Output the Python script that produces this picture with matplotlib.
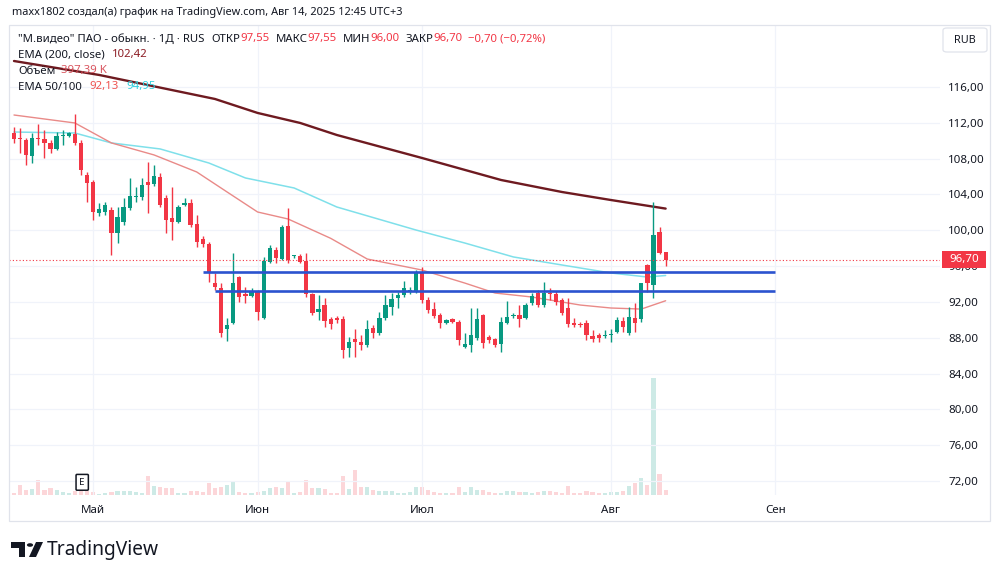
import matplotlib
matplotlib.use('Agg')
import matplotlib.pyplot as plt
from matplotlib.patches import Rectangle, Polygon, Circle, FancyBboxPatch
import matplotlib.transforms as mtrans

# ---------------- data ----------------
opens = [110.86, 110.31, 110.08, 108.29, 110.31, 110.19, 109.75, 109.08, 110.53, 110.53,
         110.75, 109.75, 106.17, 105.39, 101.93, 102.04, 102.26, 99.70, 100.92, 102.49,
         103.72, 103.72, 105.39, 105.17, 105.95, 103.61, 101.37, 100.92, 102.82, 103.05,
         100.70, 99.03, 98.47, 94.11, 93.56, 88.98, 89.65, 94.78, 92.88, 92.66,
         93.22, 90.20, 96.46, 97.80, 96.79, 100.48, 97.13, 97.13, 96.57, 92.88,
         90.87, 91.66, 90.09, 90.20, 90.09, 86.85, 87.86, 87.53, 87.19, 89.09,
         88.53, 90.20, 91.43, 92.44, 92.77, 93.11, 93.22, 95.23, 92.21, 91.21,
         90.54, 89.65, 90.09, 89.76, 86.97, 87.19, 87.97, 90.54, 88.08, 87.86,
         87.30, 89.65, 90.43, 90.54, 90.20, 91.88, 93.00, 91.66, 93.00, 92.88,
         92.21, 91.32, 89.65, 89.53, 89.65, 88.19, 88.31, 88.19, 88.31, 88.64,
         89.87, 88.53, 90.20, 90.09, 96.12, 93.89, 99.81, 97.55]
highs = [111.53, 111.42, 110.31, 110.86, 111.87, 111.20, 110.08, 110.97, 111.20, 110.97,
         112.98, 110.08, 106.51, 105.61, 103.05, 103.16, 102.60, 102.60, 103.61, 105.84,
         104.83, 105.84, 107.62, 107.29, 106.40, 103.94, 104.83, 102.82, 103.61, 103.49,
         101.70, 99.36, 98.69, 95.23, 94.11, 90.20, 97.46, 94.89, 93.67, 93.56,
         93.33, 97.01, 98.36, 98.13, 100.59, 102.49, 97.24, 97.35, 97.46, 93.00,
         92.77, 92.44, 90.32, 90.43, 90.43, 88.08, 88.98, 88.31, 89.98, 89.42,
         90.87, 92.77, 93.00, 93.11, 94.33, 93.67, 95.56, 95.90, 92.55, 91.99,
         90.76, 90.09, 90.20, 89.98, 88.53, 91.32, 91.32, 90.65, 88.31, 87.97,
         90.32, 92.10, 90.76, 91.66, 91.88, 93.00, 93.33, 94.22, 93.56, 93.22,
         92.44, 92.44, 90.20, 89.76, 89.98, 88.86, 88.53, 88.86, 88.98, 90.32,
         90.32, 91.43, 91.88, 94.11, 96.23, 103.16, 100.37, 97.55]
lows = [109.75, 108.63, 107.29, 107.51, 109.52, 108.07, 108.63, 108.96, 109.52, 110.42,
        109.52, 106.17, 103.16, 101.14, 101.59, 101.70, 97.24, 98.58, 100.59, 102.26,
        103.16, 103.38, 101.93, 104.95, 102.60, 99.70, 98.91, 100.81, 102.71, 100.37,
        98.13, 98.13, 94.22, 93.33, 88.08, 87.64, 89.53, 91.99, 91.88, 92.55,
        89.98, 90.09, 96.35, 96.35, 96.68, 96.35, 96.90, 96.35, 92.55, 90.54,
        89.98, 89.20, 88.98, 89.65, 85.74, 85.85, 85.85, 86.63, 86.97, 87.97,
        88.31, 89.98, 90.54, 91.32, 92.55, 92.88, 93.00, 91.88, 90.76, 90.20,
        89.09, 89.53, 89.65, 87.19, 86.85, 86.41, 87.75, 86.85, 87.41, 86.97,
        86.41, 89.53, 90.20, 89.20, 90.09, 91.66, 91.43, 91.43, 92.21, 91.66,
        90.54, 89.20, 89.20, 89.20, 87.75, 87.53, 87.53, 87.97, 87.53, 88.53,
        88.64, 88.31, 88.64, 89.76, 93.11, 92.44, 97.35, 96.00]
closes = [110.19, 110.19, 108.41, 110.31, 110.19, 109.75, 109.08, 110.53, 110.64, 110.86,
          109.75, 106.73, 105.28, 102.04, 102.37, 102.82, 99.70, 101.48, 102.60, 103.83,
          103.83, 105.06, 105.06, 106.06, 102.82, 101.14, 100.92, 102.60, 103.05, 100.59,
          98.69, 98.47, 95.23, 93.67, 88.53, 89.42, 94.11, 92.55, 92.66, 93.11,
          90.87, 96.57, 98.02, 96.90, 100.37, 96.68, 97.24, 96.46, 92.88, 90.76,
          91.21, 89.87, 89.53, 89.98, 86.63, 87.53, 87.53, 87.19, 88.98, 88.53,
          90.20, 91.66, 92.33, 92.77, 93.56, 93.33, 95.23, 92.21, 91.10, 90.43,
          89.65, 89.98, 89.76, 87.75, 87.30, 88.31, 90.09, 87.41, 87.75, 87.19,
          89.76, 90.32, 90.54, 90.09, 91.66, 92.66, 91.66, 93.00, 92.88, 91.99,
          90.76, 89.53, 89.42, 89.42, 88.31, 87.86, 87.97, 88.31, 88.42, 89.98,
          89.20, 90.32, 89.65, 94.11, 94.11, 99.47, 97.46, 96.70]
volumes_k = [160, 800, 400, 480, 1200, 400, 560, 400, 240, 160,
             320, 400, 320, 240, 80, 160, 240, 320, 320, 320,
             240, 160, 1520, 720, 640, 560, 560, 160, 160, 320,
             320, 240, 960, 560, 640, 800, 1040, 240, 160, 160,
             240, 320, 560, 640, 560, 1120, 160, 240, 1200, 560,
             560, 480, 160, 160, 1520, 480, 2000, 640, 640, 400,
             320, 320, 320, 160, 160, 240, 640, 640, 400, 240,
             160, 160, 160, 640, 240, 640, 400, 400, 240, 160,
             160, 320, 320, 240, 240, 160, 240, 320, 320, 240,
             160, 720, 160, 160, 320, 240, 160, 160, 240, 240,
             320, 720, 960, 1360, 800, 9360, 1680, 397.39]

ema200_bars = [0, 14, 33, 40, 47, 53, 67, 80, 85, 90, 98, 107]
ema200_vals = [118.90, 117.34, 114.66, 113.10, 111.98, 110.64, 108.07, 105.61, 104.94, 104.27, 103.38, 102.42]
ema50_bars = [0, 10, 16, 23, 30, 35, 40, 45, 52, 58, 67, 74, 79, 85, 93, 98, 103, 107]
ema50_vals = [112.87, 111.98, 109.75, 108.41, 106.51, 104.27, 102.04, 101.26, 99.10, 96.79,
              95.56, 94.11, 92.99, 92.55, 91.65, 91.32, 91.20, 92.13]
ema100_bars = [0, 10, 16, 24, 32, 38, 46, 53, 66, 74, 82, 90, 98, 104, 107]
ema100_vals = [110.97, 110.86, 109.75, 109.08, 107.51, 105.84, 104.72, 102.60, 100.03, 98.58,
               97.02, 96.12, 95.23, 94.78, 94.95]

level_prices = [95.35, 93.20]
level_start_bars = [31, 33]
level_end_bar = 125

month_labels = ['Май', 'Июн', 'Июл', 'Авг', 'Сен']
month_bars = [13, 40, 67, 98, 125]
price_ticks = [72, 76, 80, 84, 88, 92, 96, 100, 104, 108, 112, 116]
last_price = 96.70
earnings_bar = 11.2

# ---------------- style ----------------
W, H = 1000, 578
UP = '#089981'
DN = '#f23645'
TXT = '#131722'
GRID = '#f0f3fa'

plt.rcParams['font.family'] = ['Noto Sans', 'DejaVu Sans']

fig = plt.figure(figsize=(W / 100, H / 100), dpi=100)
fig.patch.set_facecolor('white')

def fx(x):
    return x / W

def fy(y):
    return 1 - y / H

# plot region in pixels
PL, PR, PT, PB = 9, 940, 25, 495
rect = [fx(PL), fy(PB), (PR - PL) / W, (PB - PT) / H]

axv = fig.add_axes(rect, zorder=0)
ax = fig.add_axes(rect, zorder=1, sharex=axv)
ax.patch.set_alpha(0)

xlim = (-0.82, 152.05)
ax.set_xlim(*xlim)
ax.set_ylim(70.44, 122.92)

for a in (ax, axv):
    for s in a.spines.values():
        s.set_visible(False)

axv.set_yticks([])
axv.tick_params(axis='x', length=0, labelbottom=False)
for p in price_ticks:
    ax.axhline(p, color=GRID, lw=0.9, zorder=0)
for b in month_bars:
    ax.axvline(b, color=GRID, lw=0.9, zorder=0)

# volume
vol_colors = [(0.03, 0.6, 0.51, 0.2) if c >= o else (0.95, 0.21, 0.27, 0.2)
              for o, c in zip(opens, closes)]
idx = list(range(len(closes)))
axv.bar(idx, volumes_k, width=0.68, color=vol_colors, linewidth=0)
axv.set_ylim(0, max(volumes_k) * 4.02)

# EMAs
ax.plot(ema100_bars, ema100_vals, color='#7fe0ea', lw=1.1, zorder=2,
        solid_capstyle='round', solid_joinstyle='round')
ax.plot(ema50_bars, ema50_vals, color='#e98a88', lw=1.0, zorder=2,
        solid_capstyle='round', solid_joinstyle='round')
ax.plot(ema200_bars, ema200_vals, color='#6e1a20', lw=1.7, zorder=2,
        solid_capstyle='round', solid_joinstyle='round')

# candles
for i, (o, h, l, c) in enumerate(zip(opens, highs, lows, closes)):
    col = UP if c >= o else DN
    ax.vlines(i, l, h, color=col, lw=1.0, zorder=3)
    bot = min(o, c)
    hgt = max(abs(c - o), 0.12)
    ax.bar(i, hgt, bottom=bot, width=0.7, color=col, linewidth=0, zorder=4)

# horizontal levels
for p, s in zip(level_prices, level_start_bars):
    ax.hlines(p, s, level_end_bar, color='#2b53cf', lw=1.9, zorder=5)

# last price dotted line
ax.axhline(last_price, color=DN, lw=0.8, ls=(0, (1, 2)), zorder=5)

# ticks
ax.yaxis.tick_right()
ax.set_yticks(price_ticks)
ax.set_yticklabels([f'{p:.2f}'.replace('.', ',') for p in price_ticks])
ax.tick_params(axis='y', length=0, pad=6, labelsize=8.3, labelcolor=TXT)
ax.set_xticks(month_bars)
ax.set_xticklabels(month_labels)
ax.tick_params(axis='x', length=0, pad=7, labelsize=8.3, labelcolor=TXT)
for t in ax.get_xticklabels():
    t.set_fontweight('semibold')

# price label
yb = mtrans.blended_transform_factory(ax.transAxes, ax.transData)
ax.add_patch(Rectangle((1.002, last_price - 0.95), 0.0475, 1.9, transform=yb,
                       facecolor=DN, edgecolor='none', clip_on=False, zorder=10))
ax.text(1.026, last_price, f'{last_price:.2f}'.replace('.', ','), transform=yb,
        color='white', fontsize=8.3, fontweight='bold', ha='center', va='center',
        clip_on=False, zorder=11)

# earnings marker
ax.text(earnings_bar, 0.027, 'E', transform=mtrans.blended_transform_factory(ax.transData, ax.transAxes),
        fontsize=7, color=TXT, ha='center', va='center', zorder=12,
        bbox=dict(boxstyle='round,pad=0.35,rounding_size=0.1', fc='white', ec=TXT, lw=1.1))

# chart frame
fig.patches.append(Rectangle((fx(PL), fy(521)), (990 - PL) / W, (521 - PT) / H,
                             transform=fig.transFigure, fill=False, ec='#e0e3eb', lw=0.9))
# RUB box
fig.patches.append(FancyBboxPatch((fx(943), fy(52)), 44 / W, 24 / H,
                                  boxstyle='round,pad=0,rounding_size=0.004',
                                  transform=fig.transFigure, fc='white', ec='#e0e3eb', lw=0.9))
fig.text(fx(965), fy(40.5), 'RUB', fontsize=7.8, color=TXT, ha='center', va='center')

# title
fig.text(fx(12), fy(12), 'maxx1802 создал(а) график на TradingView.com, Авг 14, 2025 12:45 UTC+3',
         fontsize=7.9, color=TXT, ha='left', va='center')

renderer = fig.canvas.get_renderer()

def rich(x, y, parts, size=8.2):
    for s, c, gap in parts:
        t = fig.text(fx(x), fy(y), s, color=c, fontsize=size, ha='left', va='center', zorder=20)
        bb = t.get_window_extent(renderer=renderer)
        x += bb.width + gap

RED = '#f23645'
rich(18, 39, [('"М.видео" ПАО - обыкн. · 1Д · RUS', TXT, 7),
              ('ОТКР', TXT, 0), ('97,55', RED, 6),
              ('МАКС', TXT, 0), ('97,55', RED, 6),
              ('МИН', TXT, 0), ('96,00', RED, 6),
              ('ЗАКР', TXT, 0), ('96,70', RED, 6),
              ('−0,70 (−0,72%)', RED, 0)])
rich(18, 55, [('EMA (200, close)', TXT, 7), ('102,42', '#8c1c24', 0)])
rich(18, 71, [('Объём', TXT, 6), ('397,39 K', '#d9545e', 0)])
rich(18, 87, [('EMA 50/100', TXT, 7), ('92,13', '#ef5350', 8), ('94,95', '#2fd0e0', 0)])

# logo
def P(pts):
    return [(fx(a), fy(b)) for a, b in pts]

fig.patches.append(Polygon(P([(11, 542), (25, 542), (25, 557), (19, 557), (19, 548), (11, 548)]),
                           closed=True, transform=fig.transFigure, fc='#131722', ec='none'))
fig.patches.append(Circle((fx(30), fy(545)), 3.1 / W, transform=fig.transFigure, fc='#131722', ec='none'))
fig.patches.append(Polygon(P([(36, 542), (43, 542), (36, 557), (29, 557)]),
                           closed=True, transform=fig.transFigure, fc='#131722', ec='none'))
fig.text(fx(47), fy(550), 'TradingView', fontsize=13.8, fontweight='bold', color='#131722',
         ha='left', va='center')

fig.savefig('out.png', dpi=100, facecolor='white')
